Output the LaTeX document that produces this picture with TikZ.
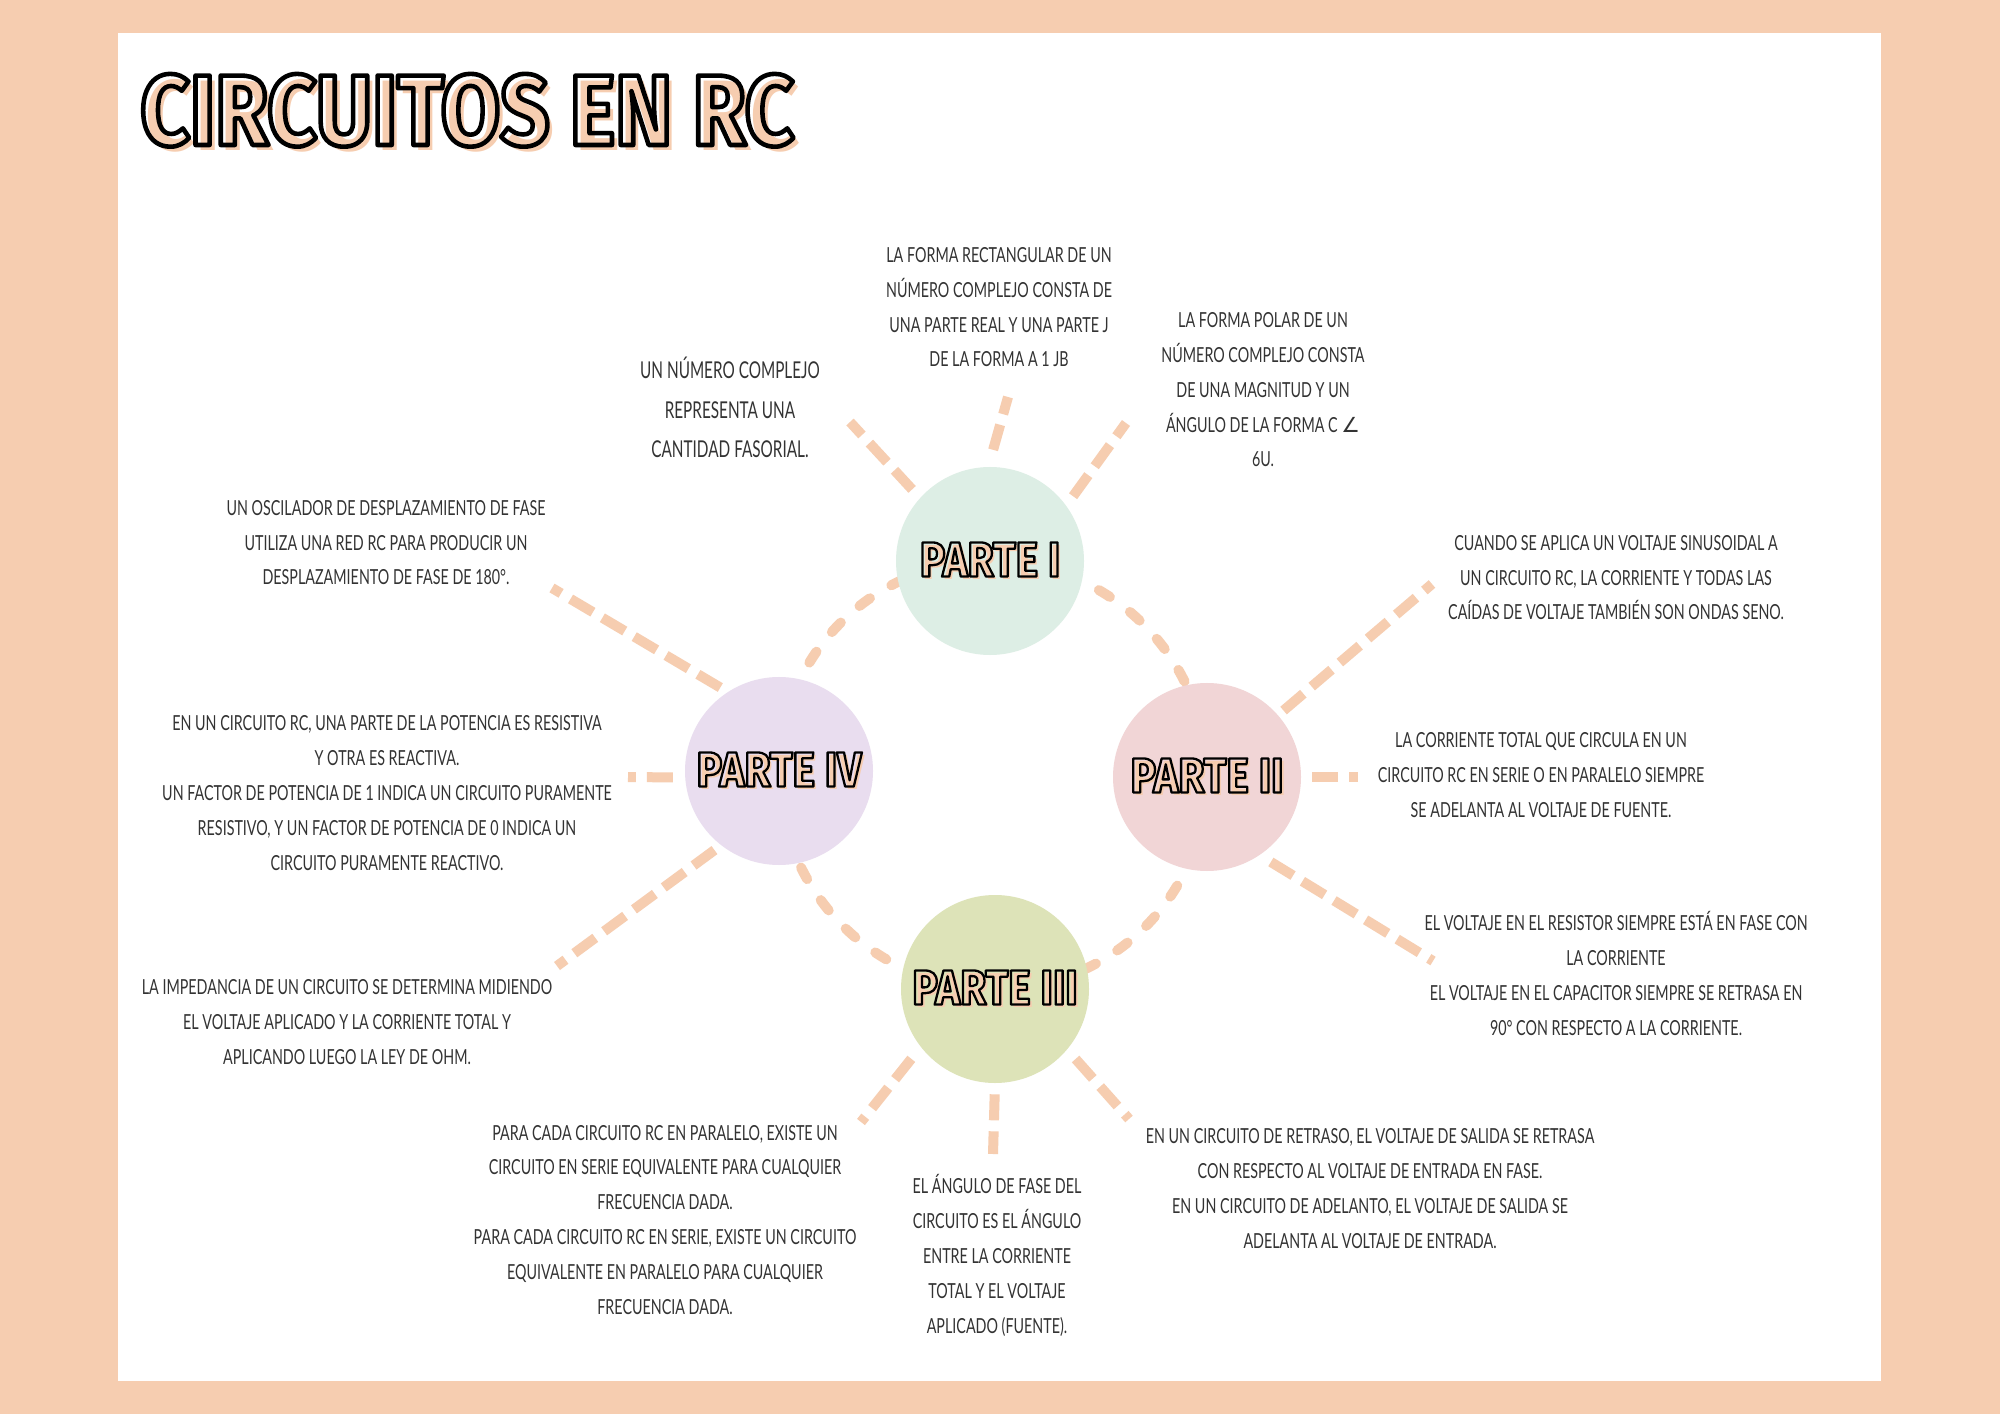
\documentclass[tikz,border=0pt]{standalone}
\usepackage{fontspec}
\setmainfont{Lato}[FakeStretch=0.69]
\newfontfamily\headfont{Fira Sans}[FakeStretch=0.86]
\newfontfamily\symbfont{DejaVu Sans}
\usetikzlibrary{backgrounds}
\definecolor{peach}{HTML}{F6CDB0}
\definecolor{mintbg}{HTML}{DDEEE5}
\definecolor{rosebg}{HTML}{F1D5D6}
\definecolor{limebg}{HTML}{DDE3B8}
\definecolor{lilacbg}{HTML}{E9DDEF}
\definecolor{ink}{HTML}{333333}
\newcommand\hollowtext[3]{%
  \makebox[0pt][l]{\hspace*{#1}\raisebox{-#1}{\textcolor{peach}{#3}}}%
  \textcolor{black}{\special{pdf:literal direct #2 w 1 j 1 Tr}#3\special{pdf:literal direct 0 Tr}}}
\tikzset{
  headline/.style={inner sep=0pt,font=\headfont\bfseries\fontsize{57}{57}\selectfont},
  part/.style    ={circle,minimum size=37.6mm,inner sep=0pt,font=\headfont\bfseries\fontsize{28}{28}\selectfont},
  note/.style    ={align=center,anchor=base,inner sep=0pt,text=ink,font=\fontsize{11.8}{19.8}\selectfont},
  bignote/.style ={note,font=\addfontfeatures{FakeStretch=0.66}\fontsize{13.2}{22.5}\selectfont},
  ray/.style     ={draw=peach,line width=2mm,dash pattern=on 5.2mm off 2.2mm},
  ringline/.style={draw=peach,line width=2mm,line cap=round,dash pattern=on 2.6mm off 5mm},
}
\begin{document}
\begin{tikzpicture}[x=0.2mm,y=-0.2mm]
  \useasboundingbox (0,0) rectangle (2000,1414);
  \node[headline,anchor=base west] (title) at (140,145) {\hollowtext{1.1mm}{2.6}{CIRCUITOS EN RC}};

  \node[part,fill=mintbg]  (p1) at (990,561)  {\hollowtext{0.6mm}{1.3}{PARTE I}};
  \node[part,fill=rosebg]  (p2) at (1207,777) {\hollowtext{0.6mm}{1.3}{PARTE II}};
  \node[part,fill=limebg]  (p3) at (995,989)  {\hollowtext{0.6mm}{1.3}{PARTE III}};
  \node[part,fill=lilacbg] (p4) at (779,771)  {\hollowtext{0.6mm}{1.3}{PARTE IV}};

  \begin{scope}[on background layer]
    \fill[peach] (0,0) rectangle (2000,1414);
    \fill[white] (118,33) rectangle (1881,1381);
    \draw[ringline] (p1.center) to[bend left=45] (p2.center);
    \draw[ringline] (p2.center) to[bend left=45] (p3.center);
    \draw[ringline] (p3.center) to[bend left=45] (p4.center);
    \draw[ringline] (p4.center) to[bend left=45] (p1.center);
  \end{scope}

  \coordinate (e1a) at (850,422);
  \coordinate (e1b) at (1008,397);
  \coordinate (e1c) at (1126,423);
  \coordinate (e2a) at (1432,584);
  \coordinate (e2b) at (1358,777);
  \coordinate (e2c) at (1433,961);
  \coordinate (e3a) at (861,1122);
  \coordinate (e3b) at (993,1154);
  \coordinate (e3c) at (1129,1119);
  \coordinate (e4a) at (552,588);
  \coordinate (e4b) at (628,777);
  \coordinate (e4c) at (557,966);
  \foreach \from/\to/\gap in {p1.138/e1a/2.3mm, p1.91/e1b/3.5mm, p1.36/e1c/2.3mm,
      p2.41/e2a/1.4mm, p2.0/e2b/2.2mm, p2.304/e2c/2.6mm,
      p3.218/e3a/3mm, p3.270/e3b/2.2mm, p3.320/e3c/2.5mm,
      p4.123/e4a/1.7mm, p4.184/e4b/2.4mm, p4.232/e4c/1.6mm}
    \draw[ray,shorten <=\gap] (\from) -- (\to);

  \node[note] (t1) at (999,367) {LA FORMA RECTANGULAR DE UN\\NÚMERO COMPLEJO CONSTA DE\\UNA PARTE REAL Y UNA PARTE J\\DE LA FORMA A 1 JB};
  \node[bignote] (t2) at (730,458) {UN NÚMERO COMPLEJO\\REPRESENTA UNA\\CANTIDAD FASORIAL.};
  \node[note] (t3) at (1263,467) {LA FORMA POLAR DE UN\\NÚMERO COMPLEJO CONSTA\\DE UNA MAGNITUD Y UN\\ÁNGULO DE LA FORMA C {\symbfont ∠}\\6U.};
  \node[note] (t4) at (386,585) {UN OSCILADOR DE DESPLAZAMIENTO DE FASE\\UTILIZA UNA RED RC PARA PRODUCIR UN\\DESPLAZAMIENTO DE FASE DE 180°.};
  \node[note] (t5) at (1616,620) {CUANDO SE APLICA UN VOLTAJE SINUSOIDAL A\\UN CIRCUITO RC, LA CORRIENTE Y TODAS LAS\\CAÍDAS DE VOLTAJE TAMBIÉN SON ONDAS SENO.};
  \node[note] (t6) at (387,870) {EN UN CIRCUITO RC, UNA PARTE DE LA POTENCIA ES RESISTIVA\\Y OTRA ES REACTIVA.\\UN FACTOR DE POTENCIA DE 1 INDICA UN CIRCUITO PURAMENTE\\RESISTIVO, Y UN FACTOR DE POTENCIA DE 0 INDICA UN\\CIRCUITO PURAMENTE REACTIVO.};
  \node[note] (t7) at (1541,817) {LA CORRIENTE TOTAL QUE CIRCULA EN UN\\CIRCUITO RC EN SERIE O EN PARALELO SIEMPRE\\SE ADELANTA AL VOLTAJE DE FUENTE.};
  \node[note] (t8) at (1616,1035) {EL VOLTAJE EN EL RESISTOR SIEMPRE ESTÁ EN FASE CON\\LA CORRIENTE\\EL VOLTAJE EN EL CAPACITOR SIEMPRE SE RETRASA EN\\90° CON RESPECTO A LA CORRIENTE.};
  \node[note] (t9) at (347,1064) {LA IMPEDANCIA DE UN CIRCUITO SE DETERMINA MIDIENDO\\EL VOLTAJE APLICADO Y LA CORRIENTE TOTAL Y\\APLICANDO LUEGO LA LEY DE OHM.};
  \node[note] (t10) at (665,1314) {PARA CADA CIRCUITO RC EN PARALELO, EXISTE UN\\CIRCUITO EN SERIE EQUIVALENTE PARA CUALQUIER\\FRECUENCIA DADA.\\PARA CADA CIRCUITO RC EN SERIE, EXISTE UN CIRCUITO\\EQUIVALENTE EN PARALELO PARA CUALQUIER\\FRECUENCIA DADA.};
  \node[note] (t11) at (997,1333) {EL ÁNGULO DE FASE DEL\\CIRCUITO ES EL ÁNGULO\\ENTRE LA CORRIENTE\\TOTAL Y EL VOLTAJE\\APLICADO (FUENTE).};
  \node[note] (t12) at (1370,1248) {EN UN CIRCUITO DE RETRASO, EL VOLTAJE DE SALIDA SE RETRASA\\CON RESPECTO AL VOLTAJE DE ENTRADA EN FASE.\\EN UN CIRCUITO DE ADELANTO, EL VOLTAJE DE SALIDA SE\\ADELANTA AL VOLTAJE DE ENTRADA.};
\end{tikzpicture}
\end{document}
